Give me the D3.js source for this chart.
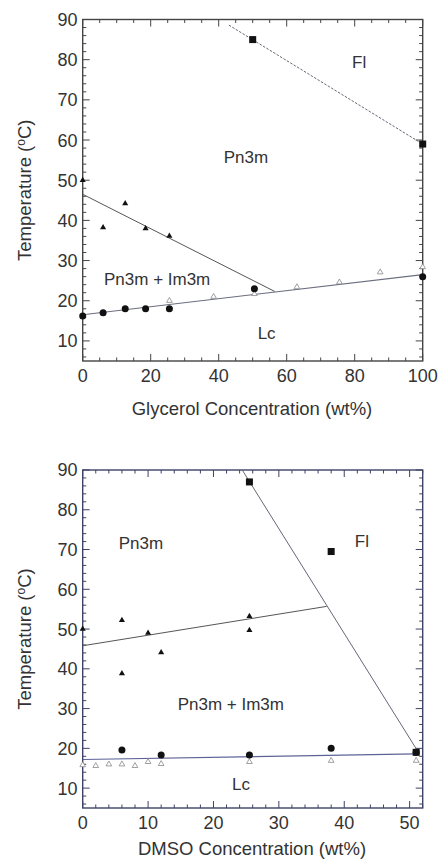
<!DOCTYPE html>
<html>
<head>
<meta charset="utf-8">
<script src="https://cdn.jsdelivr.net/npm/d3@7"></script>
<style>
  body { margin: 0; background: #fff; }
  svg { display: block; font-family: "Liberation Sans", Arial, sans-serif; }
</style>
</head>
<body>
<svg id="chart" width="439" height="859"></svg>
<script>
// ---- data ----
const tempTicks = [10, 20, 30, 40, 50, 60, 70, 80, 90];

// glycerol panel
const glyXTicks = [0, 20, 40, 60, 80, 100];
const glyFluidSquares = [[50, 85], [100, 59]];
const glyCubicTriangles = [[0, 50], [6, 38.2], [12.5, 44.2], [18.5, 38], [25.5, 36.1]];
const glyLcCircles = [[0, 16.2], [6, 17], [12.5, 18], [18.5, 18], [25.5, 18], [50.5, 23], [100, 26]];
const glyOpenTriangles = [[25.5, 20], [38.5, 21], [50.5, 21.7], [63, 23.4], [75.5, 24.6], [87.5, 27.1], [100, 28.4]];
const glyBoundaryFl = [[43, 88.6], [100, 59]];
const glyBoundaryCubic = [[0, 46.5], [56.5, 22.3]];
const glyBoundaryLc = [[0, 16.5], [100, 26.5]];
const glyLabels = [
  { text: `Fl`, x: 81.3, y: 77.9 },
  { text: `Pn3m`, x: 48, y: 54.3 },
  { text: `Pn3m + Im3m`, x: 21.9, y: 24 },
  { text: `Lc`, x: 54.1, y: 10.5 },
];

// DMSO panel
const dmsoXTicks = [0, 10, 20, 30, 40, 50];
const dmsoFluidSquares = [[25.5, 87], [38, 69.5], [51, 19]];
const dmsoCubicTriangles = [[0, 50], [6, 52.2], [10, 49], [25.5, 53.2], [25.5, 49.7], [6, 38.8], [12, 44.1]];
const dmsoLcCircles = [[6, 19.6], [12, 18.3], [25.5, 18.3], [38, 20], [51, 19]];
const dmsoOpenTriangles = [[0, 15.8], [2, 15.6], [4, 16], [6, 16], [8, 15.6], [10, 16.6], [12, 16.1], [25.5, 16.6], [38, 16.9], [51, 16.9]];
const dmsoBoundaryFl = [[24.4, 90], [51.5, 18.6]];
const dmsoBoundaryCubic = [[0, 45.8], [37.3, 55.7]];
const dmsoBoundaryLc = [[0, 17.2], [51, 18.6]];
const dmsoLabels = [
  { text: `Pn3m`, x: 8.9, y: 70.1 },
  { text: `Fl`, x: 42.7, y: 70.6 },
  { text: `Pn3m + Im3m`, x: 22.65, y: 29.6 },
  { text: `Lc`, x: 24.2, y: 9.5 },
];

const svg = d3.select(`#chart`);

function drawPanel(o) {
  const x = d3.scaleLinear().domain(o.xDomain).range([82.7, 422.7]);
  const y = d3.scaleLinear().domain([5, 90]).range([o.bottom, o.top]);
  const g = svg.append(`g`);

  const frame = o.frameColor;
  const xMinor = d3.range(o.xDomain[0], o.xDomain[1] + 0.001, o.xMinorStep);
  const yMinor = d3.range(6, 90.001, 2);

  // ticks (inward) on all four sides
  const tickG = g.append(`g`).attr(`stroke`, frame).attr(`stroke-width`, 1);
  xMinor.forEach((v) => {
    const len = o.xTicks.includes(v) ? 7 : 3.5;
    tickG.append(`line`).attr(`x1`, x(v)).attr(`x2`, x(v)).attr(`y1`, y(5)).attr(`y2`, y(5) - len);
    tickG.append(`line`).attr(`x1`, x(v)).attr(`x2`, x(v)).attr(`y1`, y(90)).attr(`y2`, y(90) + len);
  });
  yMinor.forEach((v) => {
    const len = tempTicks.includes(v) ? 7 : 3.5;
    tickG.append(`line`).attr(`y1`, y(v)).attr(`y2`, y(v)).attr(`x1`, x.range()[0]).attr(`x2`, x.range()[0] + len);
    tickG.append(`line`).attr(`y1`, y(v)).attr(`y2`, y(v)).attr(`x1`, x.range()[1]).attr(`x2`, x.range()[1] - len);
  });

  // frame
  g.append(`rect`)
    .attr(`x`, x.range()[0]).attr(`y`, y(90))
    .attr(`width`, x.range()[1] - x.range()[0]).attr(`height`, y(5) - y(90))
    .attr(`fill`, `none`).attr(`stroke`, frame).attr(`stroke-width`, 1.4);

  // tick labels
  g.append(`g`).selectAll(`text`).data(o.xTicks).join(`text`)
    .attr(`x`, (d) => x(d)).attr(`y`, o.bottom + 21)
    .attr(`text-anchor`, `middle`).attr(`font-size`, `18px`).attr(`fill`, `#333`)
    .text((d) => d);
  g.append(`g`).selectAll(`text`).data(tempTicks).join(`text`)
    .attr(`x`, 77.5).attr(`y`, (d) => y(d)).attr(`dy`, `0.36em`)
    .attr(`text-anchor`, `end`).attr(`font-size`, `18px`).attr(`fill`, `#333`)
    .text((d) => d);

  // axis titles
  g.append(`text`)
    .attr(`x`, 252).attr(`y`, o.xTitleY)
    .attr(`text-anchor`, `middle`).attr(`font-size`, `18.5px`).attr(`fill`, `#333`)
    .text(o.xTitle);
  const yt = g.append(`text`)
    .attr(`transform`, `translate(31, ${(o.top + o.bottom) / 2}) rotate(-90)`)
    .attr(`text-anchor`, `middle`).attr(`font-size`, `18.5px`).attr(`fill`, `#333`);
  yt.append(`tspan`).text(`Temperature (`);
  yt.append(`tspan`).attr(`font-size`, `12px`).attr(`dy`, `-6`).text(`o`);
  yt.append(`tspan`).attr(`dy`, `6`).text(`C)`);

  // phase boundaries
  const line = d3.line().x((d) => x(d[0])).y((d) => y(d[1]));
  g.append(`path`).attr(`d`, line(o.boundaryFl)).attr(`fill`, `none`)
    .attr(`stroke`, `#667`).attr(`stroke-width`, 1)
    .attr(`stroke-dasharray`, o.flDashed ? `2.5,1.5` : null);
  g.append(`path`).attr(`d`, line(o.boundaryCubic)).attr(`fill`, `none`)
    .attr(`stroke`, `#555`).attr(`stroke-width`, 1);
  g.append(`path`).attr(`d`, line(o.boundaryLc)).attr(`fill`, `none`)
    .attr(`stroke`, o.lcColor).attr(`stroke-width`, 1.1);

  // markers
  const tri = d3.symbol().type(d3.symbolTriangle);
  g.append(`g`).selectAll(`path`).data(o.openTriangles).join(`path`)
    .attr(`d`, tri.size(14)())
    .attr(`transform`, (d) => `translate(${x(d[0])},${y(d[1])})`)
    .attr(`fill`, `#fff`).attr(`stroke`, `#888`).attr(`stroke-width`, 0.8);
  g.append(`g`).selectAll(`path`).data(o.cubicTriangles).join(`path`)
    .attr(`d`, tri.size(16)())
    .attr(`transform`, (d) => `translate(${x(d[0])},${y(d[1])})`)
    .attr(`fill`, `#111`);
  g.append(`g`).selectAll(`circle`).data(o.lcCircles).join(`circle`)
    .attr(`cx`, (d) => x(d[0])).attr(`cy`, (d) => y(d[1])).attr(`r`, 3.5)
    .attr(`fill`, `#111`);
  g.append(`g`).selectAll(`rect`).data(o.fluidSquares).join(`rect`)
    .attr(`x`, (d) => x(d[0]) - 3.5).attr(`y`, (d) => y(d[1]) - 3.5)
    .attr(`width`, 7).attr(`height`, 7)
    .attr(`fill`, `#111`);

  // region labels
  g.append(`g`).selectAll(`text`).data(o.labels).join(`text`)
    .attr(`x`, (d) => x(d.x)).attr(`y`, (d) => y(d.y))
    .attr(`text-anchor`, `middle`).attr(`font-size`, `17px`).attr(`fill`, `#333`)
    .text((d) => d.text);
}

drawPanel({
  xDomain: [0, 100], xTicks: glyXTicks, xMinorStep: 5,
  top: 19.5, bottom: 361, xTitleY: 415,
  xTitle: `Glycerol Concentration (wt%)`,
  frameColor: `#444`, lcColor: `#6a6e7e`, flDashed: true,
  boundaryFl: glyBoundaryFl, boundaryCubic: glyBoundaryCubic, boundaryLc: glyBoundaryLc,
  openTriangles: glyOpenTriangles, cubicTriangles: glyCubicTriangles,
  lcCircles: glyLcCircles, fluidSquares: glyFluidSquares, labels: glyLabels,
});

drawPanel({
  xDomain: [0, 52], xTicks: dmsoXTicks, xMinorStep: 2,
  top: 470, bottom: 808, xTitleY: 855,
  xTitle: `DMSO Concentration (wt%)`,
  frameColor: `#3e4266`, lcColor: `#5d6396`, flDashed: false,
  boundaryFl: dmsoBoundaryFl, boundaryCubic: dmsoBoundaryCubic, boundaryLc: dmsoBoundaryLc,
  openTriangles: dmsoOpenTriangles, cubicTriangles: dmsoCubicTriangles,
  lcCircles: dmsoLcCircles, fluidSquares: dmsoFluidSquares, labels: dmsoLabels,
});
</script>
</body>
</html>
